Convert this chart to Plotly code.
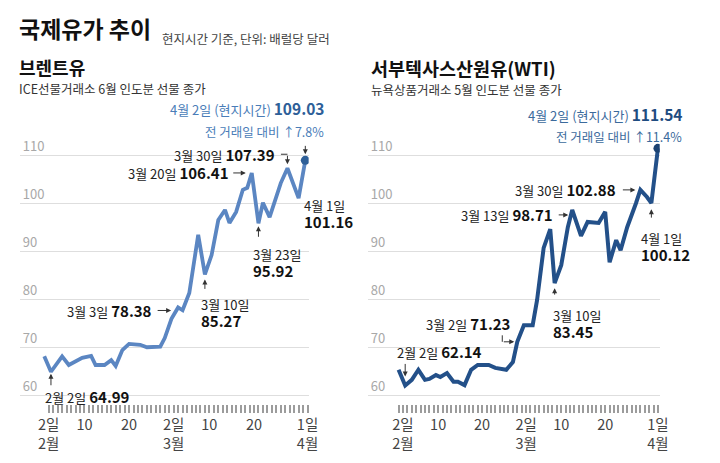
import plotly.graph_objects as go
import pandas as pd

# ---------------- data ----------------
brent_dates = ["2022-02-01", "2022-02-02 12:00", "2022-02-05", "2022-02-06 12:00", "2022-02-09 12:00",
               "2022-02-11 12:00", "2022-02-12 12:00", "2022-02-14 12:00", "2022-02-16", "2022-02-17",
               "2022-02-18 12:00", "2022-02-20", "2022-02-22 12:00", "2022-02-24", "2022-02-27",
               "2022-02-28", "2022-03-01 12:00", "2022-03-03", "2022-03-04", "2022-03-05 12:00",
               "2022-03-07 12:00", "2022-03-09", "2022-03-10 12:00", "2022-03-12", "2022-03-13 12:00",
               "2022-03-14 12:00", "2022-03-16", "2022-03-17 12:00", "2022-03-18 12:00", "2022-03-19 12:00",
               "2022-03-21", "2022-03-22", "2022-03-23 12:00", "2022-03-25", "2022-03-26",
               "2022-03-27 12:00", "2022-03-30", "2022-03-31 12:00"]
brent_vals = [68.2, 64.99, 68.2, 66.4, 67.9, 68.3, 66.4, 66.4, 67.4, 66.2,
              69.5, 70.8, 70.6, 70.1, 70.2, 72.0, 76.0, 78.38, 77.8, 81.4,
              93.5, 85.27, 89.3, 96.6, 98.7, 96.0, 98.3, 102.9, 103.3, 106.41,
              95.92, 100.2, 97.2, 101.8, 104.3, 107.39, 101.16, 109.03]

wti_dates = ["2022-02-01", "2022-02-02 12:00", "2022-02-04", "2022-02-05 12:00", "2022-02-07",
             "2022-02-08", "2022-02-09 12:00", "2022-02-10 12:00", "2022-02-12", "2022-02-13 12:00",
             "2022-02-14 12:00", "2022-02-16", "2022-02-17 12:00", "2022-02-19", "2022-02-21 12:00",
             "2022-02-23", "2022-02-25 12:00", "2022-02-27", "2022-02-28", "2022-03-01 12:00",
             "2022-03-03 12:00", "2022-03-04 12:00", "2022-03-06", "2022-03-07 12:00", "2022-03-08 12:00",
             "2022-03-10", "2022-03-11 12:00", "2022-03-12 12:00", "2022-03-14 12:00", "2022-03-16",
             "2022-03-18 12:00", "2022-03-20", "2022-03-21", "2022-03-22 12:00", "2022-03-23 12:00",
             "2022-03-25", "2022-03-27", "2022-03-28", "2022-03-29 12:00", "2022-03-30 12:00",
             "2022-04-01"]
wti_vals = [65.4, 62.14, 63.3, 65.4, 63.3, 63.5, 64.3, 63.9, 64.7, 62.9,
            62.9, 62.2, 65.4, 66.4, 66.4, 65.8, 65.4, 67.0, 71.23, 74.7,
            74.7, 79.9, 90.8, 94.7, 83.45, 87.2, 95.1, 98.71, 93.3, 96.2,
            96.0, 98.3, 87.8, 92.4, 90.3, 95.1, 100.1, 102.88, 101.4, 100.12,
            111.54]

y_ticks = [60, 70, 80, 90, 100, 110]
x_label_dates = ["2022-02-02", "2022-02-10", "2022-02-20", "2022-03-02", "2022-03-10", "2022-03-20", "2022-04-01"]
x_label_text = ["2일<br>2월", "10", "20", "2일<br>3월", "10", "20", "1일<br>4월"]

# ---------------- layout helpers ----------------
W, H = 720, 463
FONT = "Noto Sans CJK KR, Noto Sans, sans-serif"
BRENT_C = "#5b86c2"
WTI_C = "#235089"


def px(x):
    return x / W


def py(y):
    return 1 - y / H


day_ticks = pd.date_range("2022-02-01", "2022-04-01", freq="D")
tick_vals = [d.strftime("%Y-%m-%d") for d in day_ticks]
tick_text = [x_label_text[x_label_dates.index(s)] if s in x_label_dates else "" for s in tick_vals]

fig = go.Figure()
fig.add_trace(go.Scatter(x=brent_dates, y=brent_vals, mode="lines", xaxis="x", yaxis="y",
                         line=dict(color=BRENT_C, width=3.8), hoverinfo="skip"))
fig.add_trace(go.Scatter(x=[brent_dates[-1]], y=[brent_vals[-1]], mode="markers", xaxis="x", yaxis="y",
                         marker=dict(color="#2e5f98", size=9), hoverinfo="skip"))
fig.add_trace(go.Scatter(x=wti_dates, y=wti_vals, mode="lines", xaxis="x2", yaxis="y2",
                         line=dict(color=WTI_C, width=4), hoverinfo="skip"))
fig.add_trace(go.Scatter(x=[wti_dates[-1]], y=[wti_vals[-1]], mode="markers", xaxis="x2", yaxis="y2",
                         marker=dict(color="#1b4272", size=9), hoverinfo="skip"))

ydom = [py(404), py(120)]
yrange = [58.27, 117.44]


def xaxis(dom, start_pad, end_pad, anchor):
    t0 = pd.Timestamp("2022-02-01") - pd.Timedelta(days=start_pad)
    t1 = pd.Timestamp("2022-04-01") + pd.Timedelta(days=end_pad)
    return dict(domain=dom, range=[t0.strftime("%Y-%m-%d %H:%M"), t1.strftime("%Y-%m-%d %H:%M")],
                type="date", tickmode="array", anchor=anchor,
                tickvals=tick_vals, ticktext=tick_text, ticks="outside", ticklen=8,
                tickwidth=1.5, tickcolor="#9c9c9c", showgrid=False, zeroline=False, showline=False,
                tickfont=dict(size=14.5, color="#444", family=FONT), fixedrange=True)


def yaxis(anchor):
    return dict(domain=ydom, range=yrange, tickvals=y_ticks, ticklabelposition="inside top",
                showgrid=True, gridcolor="#dedede", gridwidth=1, zeroline=False, showline=False,
                ticks="", tickfont=dict(size=13, color="#a8a8a8", family=FONT), anchor=anchor,
                fixedrange=True)


fig.update_layout(
    width=W, height=H, margin=dict(l=0, r=0, t=0, b=0),
    paper_bgcolor="white", plot_bgcolor="white", showlegend=False,
    font=dict(family=FONT, color="#222"),
    xaxis=xaxis([px(20), px(313)], 5.5, 0.25, "y"),
    yaxis=yaxis("x"),
    xaxis2=xaxis([px(373), px(669)], 7.0, 0.4, "y2"),
    yaxis2=yaxis("x2"),
)

ann = []


def paper_text(x, y, text, size, color="#222", xanchor="left"):
    ann.append(dict(xref="paper", yref="paper", x=px(x), y=py(y), text=text, showarrow=False,
                    xanchor=xanchor, yanchor="middle", font=dict(size=size, color=color, family=FONT)))


paper_text(17, 28, "<b>국제유가 추이</b>", 23, "#111")
paper_text(162, 39, "현지시간 기준, 단위: 배럴당 달러", 12.5, "#444")
paper_text(17, 67, "<b>브렌트유</b>", 18, "#111")
paper_text(17, 88, "ICE선물거래소 6월 인도분 선물 종가", 12.5, "#333")
paper_text(374, 68, "<b>서부텍사스산원유(WTI)</b>", 18.5, "#111")
paper_text(374, 89, "뉴욕상품거래소 5월 인도분 선물 종가", 12.5, "#333")


def num(v, size=15, color="#111"):
    return "<span style='font-size:%spx;color:%s'><b>%.2f</b></span>" % (size, color, v)


def label(xa, ya, x, y, text, xanchor, yanchor, xshift, yshift, size=13, color="#222", align="left"):
    ann.append(dict(xref=xa, yref=ya, x=x, y=y, text=text, showarrow=False, xanchor=xanchor,
                    yanchor=yanchor, xshift=xshift, yshift=yshift, align=align,
                    font=dict(size=size, color=color, family=FONT)))


def arrow(xa, ya, x, y, ax, ay, standoff=0, head=True, xshift=0, yshift=0):
    ann.append(dict(xref=xa, yref=ya, x=x, y=y, text="", showarrow=True, ax=ax, ay=ay,
                    arrowhead=2 if head else 0, arrowsize=1, arrowwidth=1, arrowcolor="#333",
                    standoff=standoff, xshift=xshift, yshift=yshift))


# ---- Brent annotations ----
def bpt(v):
    i = brent_vals.index(v)
    return brent_dates[i], brent_vals[i]


x, y = bpt(64.99)
arrow("x", "y", x, y, 0, 15, standoff=2)
label("x", "y", x, y, "2월 2일 " + num(64.99), "left", "middle", -8, -25)

x, y = bpt(78.38)
arrow("x", "y", x, y, -22, 0, standoff=7, yshift=-3)
label("x", "y", x, y, "3월 3일 " + num(78.38), "right", "middle", -24, -3)

x, y = bpt(85.27)
arrow("x", "y", x, y, 0, 16, standoff=5)
label("x", "y", x, y, "3월 10일<br>" + num(85.27), "left", "top", -6, -19)

x, y = bpt(106.41)
arrow("x", "y", x, y, -20, 0, standoff=6)
label("x", "y", x, y, "3월 20일 " + num(106.41), "right", "middle", -21, 0)

x, y = bpt(95.92)
arrow("x", "y", x, y, 0, 15, standoff=3)
label("x", "y", x, y, "3월 23일<br>" + num(95.92), "left", "top", -7, -20)

x, y = bpt(107.39)
arrow("x", "y", x, y, -8, 0, head=False, yshift=14)
arrow("x", "y", x, y, 0, -14, standoff=4)
label("x", "y", x, y, "3월 30일 " + num(107.39), "right", "middle", -10, 14)

x, y = bpt(101.16)
label("x", "y", x, y, "4월 1일<br>" + num(101.16), "left", "top", 3, 4)

x, y = brent_dates[-1], brent_vals[-1]
arrow("x", "y", x, y, 0, -16, standoff=6)
label("x", "y", x, y, "4월 2일 (현지시간) " + num(109.03, 15.5, "#2e5f98"), "right", "middle", 21, 52,
      color="#4a7db8")
label("x", "y", x, y, "전 거래일 대비 ↑7.8%", "right", "middle", 21, 29, size=12.5, color="#4a7db8")


# ---- WTI annotations ----
def wpt(v):
    i = wti_vals.index(v)
    return wti_dates[i], wti_vals[i]


x, y = wpt(62.14)
arrow("x2", "y2", x, y, 0, -23, standoff=9)
label("x2", "y2", x, y, "2월 2일 " + num(62.14), "left", "middle", -10, 34)

x, y = wpt(71.23)
arrow("x2", "y2", x, y, 0, -8, head=False, xshift=-15)
arrow("x2", "y2", x, y, -15, 0, standoff=3)
label("x2", "y2", x, y, "3월 2일 " + num(71.23), "right", "middle", -5, 18)

x, y = wpt(83.45)
arrow("x2", "y2", x, y, 0, 13, standoff=5)
label("x2", "y2", x, y, "3월 10일<br>" + num(83.45), "left", "top", -4, -21)

x, y = wpt(98.71)
arrow("x2", "y2", x, y, -15, 0, standoff=4, yshift=-5)
label("x2", "y2", x, y, "3월 13일 " + num(98.71), "right", "middle", -17, -5)

x, y = wpt(102.88)
arrow("x2", "y2", x, y, -19, 0, standoff=5)
label("x2", "y2", x, y, "3월 30일 " + num(102.88), "right", "middle", -22, 0)

x, y = wpt(100.12)
arrow("x2", "y2", x, y, 0, 16, standoff=6)
label("x2", "y2", x, y, "4월 1일<br>" + num(100.12), "left", "top", -12, -24)

x, y = wti_dates[-1], wti_vals[-1]
label("x2", "y2", x, y, "4월 2일 (현지시간) " + num(111.54, 15.5, "#1f4c80"), "right", "middle", 26, 34,
      color="#3b6a9c")
label("x2", "y2", x, y, "전 거래일 대비 ↑11.4%", "right", "middle", 26, 12, size=12.5, color="#3b6a9c")

fig.update_layout(annotations=ann)
fig.write_html("out.html")
